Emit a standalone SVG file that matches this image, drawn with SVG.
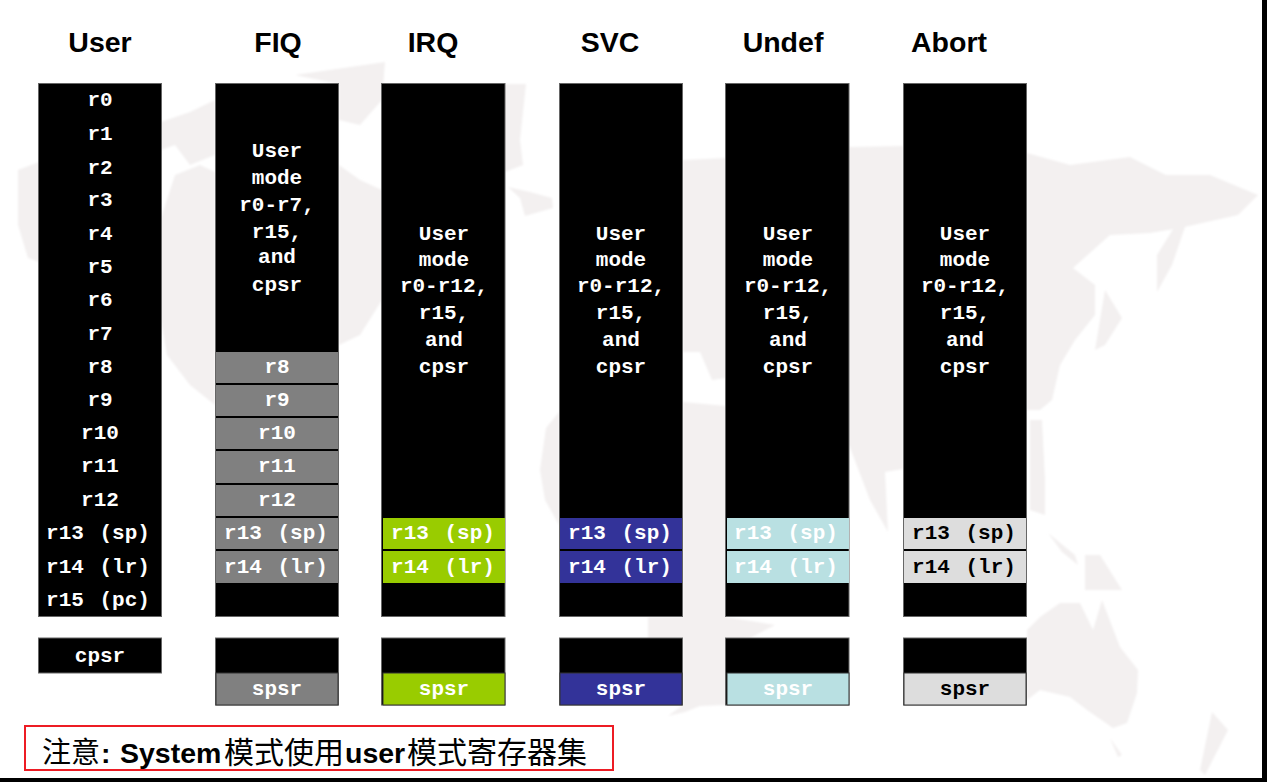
<svg xmlns="http://www.w3.org/2000/svg" width="1267" height="782" viewBox="0 0 1267 782">
<defs><filter id="soft" x="-5%" y="-5%" width="110%" height="110%"><feGaussianBlur stdDeviation="1.2"/></filter></defs>
<style>
.m{fill:#f3f0f0}
.b{fill:#000;stroke:#666;stroke-width:1}
.t{font-family:"Liberation Mono",monospace;font-weight:700;font-size:21px;word-spacing:3px;fill:#fff;text-anchor:middle}
.k{fill:#000}
.h{font-family:"Liberation Sans",Arial,sans-serif;font-weight:700;font-size:28.5px;fill:#000;text-anchor:middle}
.g{fill:#808080}
.l{fill:#99cc00}
.s{fill:#333399}
.u{fill:#b9e0e2}
.a{fill:#dddddd}
.e{stroke:#333;stroke-width:1}
</style>
<rect width="1267" height="782" fill="#fff"/>
<g id="map" filter="url(#soft)">
<path class="m" d="M18 170L39 162L39 262L28 258L18 225Z"/>
<path class="m" d="M161 230L161 218L175 175L200 165L215 172L215 405L190 385L167 355L161 320Z"/>
<path class="m" d="M161 122L190 112L215 100L215 155L190 165L175 145L161 150Z"/>
<path class="m" d="M295 75L385 62L382 100L360 125L339 120L339 84Z"/>
<path class="m" d="M339 165L360 180L382 190L382 300L360 335L339 345Z"/>
<path class="m" d="M505 84L526 84L520 140L523 165L505 172Z"/>
<path class="m" d="M508 187L530 192L552 198L553 208L525 216L520 198Z"/>
<path class="m" d="M559 412L546 428L540 470L545 500L559 525Z"/>
<path class="m" d="M683 160L726 158L726 378L712 380L700 352L683 352Z"/>
<path class="m" d="M683 402L726 406L726 617L775 625L750 638L726 640L726 705L700 706L685 712L668 716L683 705L683 638L648 640L648 617L683 617Z"/>
<path class="m" d="M849 147L903 146L903 469L885 472L888 532L870 500L849 445Z"/>
<path class="m" d="M1027 153L1070 165L1130 157L1166 175L1210 175L1258 195L1238 215L1180 228L1150 233L1110 235L1073 268L1095 285L1095 315L1075 340L1060 365L1052 400L1040 410L1027 410Z"/>
<path class="m" d="M1175 226L1186 224L1172 265L1157 292L1157 255Z"/>
<path class="m" d="M1105 290L1122 318L1105 345L1095 350L1100 320Z"/>
<path class="m" d="M1030 420L1042 420L1045 480L1045 515L1030 510Z"/>
<path class="m" d="M1048 533L1075 555L1078 565L1062 552Z"/>
<path class="m" d="M1085 555L1100 555L1122 590L1105 590L1085 590Z"/>
<path class="m" d="M1027 630L1040 617L1060 603L1080 603L1093 630L1102 600L1120 647L1138 670L1137 693L1127 723L1113 728L1087 710L1070 697L1040 690L1027 700Z"/>
<path class="m" d="M1110 738L1122 755L1118 757Z"/>
<path class="m" d="M1212 712L1228 730L1205 775L1200 770Z"/>
</g>
<rect x="1262" y="0" width="5" height="782" fill="#000"/>
<rect x="0" y="778" width="1267" height="4" fill="#000"/>
<g id="headers">
<text class="h" x="100" y="52">User</text>
<text class="h" x="278" y="52">FIQ</text>
<text class="h" x="433" y="52">IRQ</text>
<text class="h" x="610" y="52">SVC</text>
<text class="h" x="783" y="52">Undef</text>
<text class="h" x="949" y="52">Abort</text>
</g>
<g id="user">
<rect class="b" x="38.500" y="83.500" width="123" height="533"/>
<rect class="b" x="38.500" y="638" width="123" height="35"/>
<text class="t" x="100" y="106">r0</text>
<text class="t" x="100" y="140">r1</text>
<text class="t" x="100" y="174">r2</text>
<text class="t" x="100" y="206">r3</text>
<text class="t" x="100" y="240">r4</text>
<text class="t" x="100" y="273">r5</text>
<text class="t" x="100" y="306">r6</text>
<text class="t" x="100" y="340">r7</text>
<text class="t" x="100" y="373">r8</text>
<text class="t" x="100" y="406">r9</text>
<text class="t" x="100" y="439">r10</text>
<text class="t" x="100" y="472">r11</text>
<text class="t" x="100" y="506">r12</text>
<text class="t" x="98" y="539">r13 (sp)</text>
<text class="t" x="98" y="573">r14 (lr)</text>
<text class="t" x="98" y="606">r15 (pc)</text>
<text class="t" x="100" y="662">cpsr</text>
</g>
<g id="fiq">
<rect class="b" x="215.500" y="83.500" width="123" height="533"/>
<rect class="b" x="215.500" y="638" width="123" height="67"/>
<rect class="g" x="216" y="352" width="122" height="31"/>
<rect class="g" x="216" y="385" width="122" height="31"/>
<rect class="g" x="216" y="418" width="122" height="31"/>
<rect class="g" x="216" y="451" width="122" height="32"/>
<rect class="g" x="216" y="485" width="122" height="31"/>
<rect class="g" x="216" y="518" width="122" height="31"/>
<rect class="g" x="216" y="551" width="122" height="32"/>
<rect class="g e" x="216" y="673" width="122" height="32"/>
<text class="t" x="277" y="157">User</text>
<text class="t" x="277" y="184">mode</text>
<text class="t" x="277" y="211">r0-r7,</text>
<text class="t" x="277" y="238">r15,</text>
<text class="t" x="277" y="263">and</text>
<text class="t" x="277" y="291">cpsr</text>
<text class="t" x="277" y="373">r8</text>
<text class="t" x="277" y="406">r9</text>
<text class="t" x="277" y="439">r10</text>
<text class="t" x="277" y="472">r11</text>
<text class="t" x="277" y="506">r12</text>
<text class="t" x="276" y="539">r13 (sp)</text>
<text class="t" x="276" y="573">r14 (lr)</text>
<text class="t" x="277" y="695">spsr</text>
</g>
<g id="irq">
<rect class="b" x="381.500" y="83.500" width="123.500" height="533"/>
<rect class="b" x="381.500" y="638" width="123.500" height="67"/>
<rect class="l" x="383" y="518" width="122" height="31"/>
<rect class="l" x="383" y="551" width="122" height="32"/>
<rect class="l e" x="383" y="673" width="122" height="32"/>
<text class="t" x="444" y="240">User</text>
<text class="t" x="444" y="266">mode</text>
<text class="t" x="444" y="292">r0-r12,</text>
<text class="t" x="444" y="319">r15,</text>
<text class="t" x="444" y="346">and</text>
<text class="t" x="444" y="373">cpsr</text>
<text class="t" x="443" y="539">r13 (sp)</text>
<text class="t" x="443" y="573">r14 (lr)</text>
<text class="t" x="444" y="695">spsr</text>
</g>
<g id="svc">
<rect class="b" x="559.500" y="83.500" width="123" height="533"/>
<rect class="b" x="559.500" y="638" width="123" height="67"/>
<rect class="s" x="560" y="518" width="122" height="31"/>
<rect class="s" x="560" y="551" width="122" height="32"/>
<rect class="s e" x="560" y="673" width="122" height="32"/>
<text class="t" x="621" y="240">User</text>
<text class="t" x="621" y="266">mode</text>
<text class="t" x="621" y="292">r0-r12,</text>
<text class="t" x="621" y="319">r15,</text>
<text class="t" x="621" y="346">and</text>
<text class="t" x="621" y="373">cpsr</text>
<text class="t" x="620" y="539">r13 (sp)</text>
<text class="t" x="620" y="573">r14 (lr)</text>
<text class="t" x="621" y="695">spsr</text>
</g>
<g id="undef">
<rect class="b" x="725.500" y="83.500" width="123.500" height="533"/>
<rect class="b" x="725.500" y="638" width="123.500" height="67"/>
<rect class="u" x="727" y="518" width="122" height="31"/>
<rect class="u" x="727" y="551" width="122" height="32"/>
<rect class="u e" x="727" y="673" width="122" height="32"/>
<text class="t" x="788" y="240">User</text>
<text class="t" x="788" y="266">mode</text>
<text class="t" x="788" y="292">r0-r12,</text>
<text class="t" x="788" y="319">r15,</text>
<text class="t" x="788" y="346">and</text>
<text class="t" x="788" y="373">cpsr</text>
<text class="t" x="786" y="539">r13 (sp)</text>
<text class="t" x="786" y="573">r14 (lr)</text>
<text class="t" x="788" y="695">spsr</text>
</g>
<g id="abort">
<rect class="b" x="903.500" y="83.500" width="123" height="533"/>
<rect class="b" x="903.500" y="638" width="123" height="67"/>
<rect class="a" x="904" y="518" width="122" height="31"/>
<rect class="a" x="904" y="551" width="122" height="32"/>
<rect class="a e" x="904" y="673" width="122" height="32"/>
<text class="t" x="965" y="240">User</text>
<text class="t" x="965" y="266">mode</text>
<text class="t" x="965" y="292">r0-r12,</text>
<text class="t" x="965" y="319">r15,</text>
<text class="t" x="965" y="346">and</text>
<text class="t" x="965" y="373">cpsr</text>
<text class="t k" x="964" y="539">r13 (sp)</text>
<text class="t k" x="964" y="573">r14 (lr)</text>
<text class="t k" x="965" y="695">spsr</text>
</g>
<g id="note">
<rect x="25" y="726" width="588" height="44" fill="none" stroke="#ed1c24" stroke-width="2"/>
<text y="763" font-size="28.500" font-weight="700" fill="#000" font-family="'Liberation Sans','Noto Sans CJK SC',sans-serif"><tspan x="42" font-weight="400" font-size="29">注意</tspan><tspan x="101">:</tspan><tspan x="120">System</tspan><tspan x="224" font-weight="400" font-size="30">模式使用</tspan><tspan x="345">user</tspan><tspan x="407" font-weight="400" font-size="30">模式寄存器集</tspan></text>
</g>
</svg>
